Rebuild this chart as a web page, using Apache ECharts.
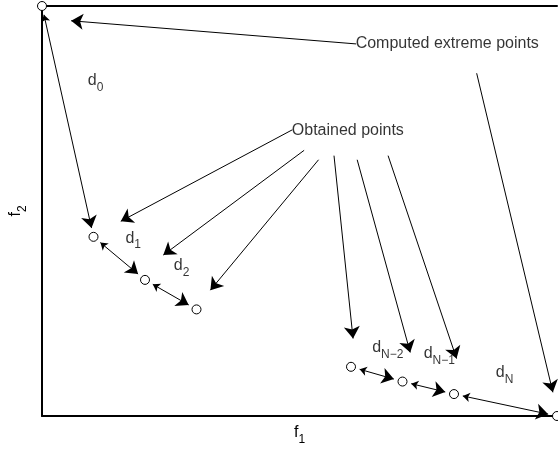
<!DOCTYPE html>
<html><head><meta charset="utf-8">
<script src="https://cdn.jsdelivr.net/npm/echarts@6/dist/echarts.min.js"></script>
<style>html,body{margin:0;padding:0;background:#fff}#c{width:558px;height:451px}</style>
</head><body><div id="c"></div>
<script>
// ---- data ----
const f1Values = [0, 10, 20, 30, 60, 70, 80, 100];
const f2Values = [100, 43.7, 33.2, 26.0, 12.0, 8.4, 5.35, 0];
const distPairs = [[0, 1], [1, 2], [2, 3], [4, 5], [5, 6], [6, 7]];
const distSubs = ['0', '1', '2', 'N\u22122', 'N\u22121', 'N'];
const distLabelPos = [[9.0, 83.6], [16.3, 45.2], [25.7, 38.5], [64.2, 18.6], [74.2, 17.0], [88.2, 12.4]];
const noteTexts = ['Computed extreme points', 'Obtained points'];
const notePos = [[61.0, 92.6], [48.6, 71.5]];
const extremeArrows = [[[61.0, 90.75], [5.66, 96.4]], [[84.4, 83.6], [99.2, 5.77]]];
const obtainedArrows = [
  [[48.6, 69.8], [15.3, 47.5]],
  [[50.9, 64.8], [23.55, 39.25]],
  [[53.7, 62.5], [32.7, 30.7]],
  [[56.7, 63.5], [60.4, 18.9]],
  [[61.2, 62.5], [71.5, 15.5]],
  [[67.2, 63.5], [80.5, 14.0]]
];
const xName = ['f', '1'];
const yName = ['f', '2'];

// ---- chart ----
const F = "'Liberation Sans', Arial, Helvetica, sans-serif";
const chart = echarts.init(document.getElementById('c'), null, {renderer: 'canvas'});
const rich = {
  d: {fontSize: 16, lineHeight: 16, verticalAlign: 'top', fontFamily: F, color: '#000'},
  s: {fontSize: 12, lineHeight: 30, verticalAlign: 'middle', fontFamily: F, color: '#000'}
};
const axisBase = {
  type: 'value', min: 0, max: 100,
  axisLine: {show: true, onZero: false, lineStyle: {color: '#000', width: 2}},
  axisTick: {show: false}, axisLabel: {show: false}, splitLine: {show: false}
};
const pts = f1Values.map((x, i) => [x, f2Values[i]]);
const labelData = distSubs.map((s, i) => ({name: '{d|d}{s|' + s + '}', value: distLabelPos[i]}));
const noteData = noteTexts.map((t, i) => ({name: t, value: notePos[i]}));

const option = {
  animation: false,
  backgroundColor: '#fff',
  grid: {left: 39, top: 6, right: 1, bottom: 34},
  xAxis: [
    Object.assign({}, axisBase, {position: 'bottom', name: '{d|' + xName[0] + '}{s|' + xName[1] + '}',
      nameLocation: 'middle', nameGap: 9, nameTextStyle: {rich: rich, verticalAlign: 'top'}}),
    Object.assign({}, axisBase, {position: 'top'})
  ],
  yAxis: [
    Object.assign({}, axisBase, {position: 'left', name: '{d|' + yName[0] + '}{s|' + yName[1] + '}',
      nameLocation: 'middle', nameGap: 4, nameTextStyle: {rich: rich}})
  ],
  series: [
    {
      type: 'scatter', data: pts, symbol: 'circle', symbolSize: 9, clip: false, z: 5,
      itemStyle: {color: '#fff', borderColor: '#000', borderWidth: 1, opacity: 1}, silent: true
    },
    {
      type: 'scatter', data: labelData.concat(noteData), symbol: 'circle', symbolSize: 1, clip: false,
      itemStyle: {color: 'rgba(0,0,0,0)'}, silent: true,
      label: {show: true, position: [0, 0], align: 'left', verticalAlign: 'top',
        formatter: p => p.name, fontSize: 16, fontFamily: F, color: '#000', rich: rich}
    }
  ]
};
chart.setOption(option);

function px(v) { return chart.convertToPixel({gridIndex: 0}, v); }
function dt(p) { return chart.convertFromPixel({gridIndex: 0}, p); }
function shrink(a, b, gA, gB) {
  const pa = px(a), pb = px(b);
  const dx = pb[0] - pa[0], dy = pb[1] - pa[1], L = Math.hypot(dx, dy);
  const ux = dx / L, uy = dy / L;
  return [dt([pa[0] + ux * gA, pa[1] + uy * gA]), dt([pb[0] - ux * gB, pb[1] - uy * gB])];
}
const GAP = 9;
const doubleData = distPairs.map(([i, j]) => ({coords: shrink(pts[i], pts[j], GAP, GAP)}));
const singleData = extremeArrows.concat(obtainedArrows).map(c => ({coords: c}));
const lineStyle = {color: '#000', width: 1, opacity: 1, curveness: 0};
chart.setOption({
  series: [
    option.series[0], option.series[1],
    {type: 'lines', coordinateSystem: 'cartesian2d', polyline: false, clip: false, silent: true,
      symbol: ['arrow', 'arrow'], symbolSize: [7, 12], lineStyle: lineStyle, data: doubleData, z: 3},
    {type: 'lines', coordinateSystem: 'cartesian2d', polyline: false, clip: false, silent: true,
      symbol: ['none', 'arrow'], symbolSize: [7, 12], lineStyle: lineStyle, data: singleData, z: 3}
  ]
});
</script></body></html>
